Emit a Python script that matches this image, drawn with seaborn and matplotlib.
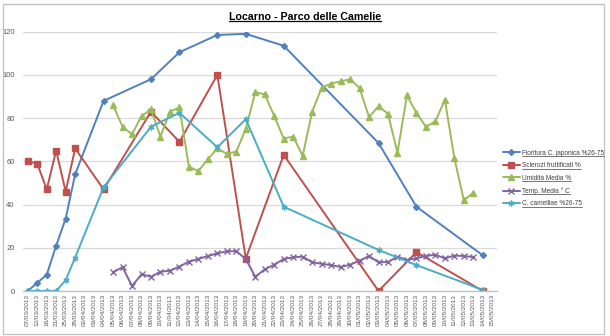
import matplotlib
matplotlib.use("Agg")
import matplotlib.pyplot as plt
from matplotlib.lines import Line2D
from matplotlib.patches import Rectangle
import seaborn as sns

# Category axis: observation dates
category_labels = [
    "07/03/2013", "12/03/2013", "16/03/2013", "21/03/2013", "25/03/2013", "28/03/2013",
    "02/04/2013", "03/04/2013", "04/04/2013", "05/04/2013", "06/04/2013", "07/04/2013",
    "08/04/2013", "09/04/2013", "10/04/2013", "11/04/2013", "12/04/2013", "13/04/2013",
    "14/04/2013", "15/04/2013", "16/04/2013", "17/04/2013", "18/04/2013", "19/04/2013",
    "20/04/2013", "21/04/2013", "22/04/2013", "23/04/2013", "24/04/2013", "25/04/2013",
    "26/04/2013", "27/04/2013", "28/04/2013", "29/04/2013", "30/04/2013", "01/05/2013",
    "02/05/2013", "03/05/2013", "04/05/2013", "05/05/2013", "06/05/2013", "07/05/2013",
    "08/05/2013", "09/05/2013", "10/05/2013", "11/05/2013", "12/05/2013", "13/05/2013",
    "14/05/2013", "15/05/2013",
]

# Field surveys
survey_dates = ["07/03/2013", "12/03/2013", "16/03/2013", "21/03/2013", "25/03/2013",
                "28/03/2013", "04/04/2013", "09/04/2013", "12/04/2013", "16/04/2013",
                "19/04/2013", "23/04/2013", "03/05/2013", "07/05/2013", "14/05/2013"]
fioritura = [0, 3.8, 7.5, 21, 33.5, 54, 88, 98, 110.5, 118.5, 119, 113.5, 68.5, 39, 16.5]
sclerozi = [60, 59, 47, 65, 46, 66, 47, 83, 69, 100, 15, 63, 0, 18, 0]
camelliae = [0, 0, 0, 0, 5, 15.5, 48, 76, 82.5, 66.5, 79.5, 39, 19, 12, 0.5]

# Daily weather (05/04 - 13/05)
weather_dates = category_labels[9:48]
umidita = [86, 76, 72.5, 81, 84, 71.5, 83, 85, 57.5, 55.5, 61, 66, 63.5, 64.5, 75, 92,
           91, 81, 70.5, 71.5, 62.5, 83, 94, 96, 97, 98, 94, 80.5, 85.5, 82, 64, 90.5,
           82.5, 76, 78.5, 88.5, 61.5, 42, 45.5]
temperatura = [8.7, 11, 2.3, 7.7, 6.6, 8.9, 9.4, 11.3, 13.6, 14.8, 16.2, 17.4, 18.4,
               18.4, 14.8, 6.6, 10, 12.2, 14.8, 15.6, 15.9, 13.3, 12.6, 12, 11.1, 12.2,
               14, 16.2, 13.3, 13.4, 15.9, 14.4, 15.1, 16.2, 16.8, 15.1, 16.4, 16.2, 15.7]

series = [
    ("Fioritura C. japonica %26-75", survey_dates, fioritura, "#4F81BD", "D", 3.0),
    ("Sclerozi fruttificati %", survey_dates, sclerozi, "#C0504D", "s", 4.0),
    ("Umidità Media %", weather_dates, umidita, "#9BBB59", "^", 3.8),
    ("Temp. Media ° C", weather_dates, temperatura, "#8064A2", "x", 3.8),
    ("C. camelliae %26-75", survey_dates, camelliae, "#4BACC6", (6, 2, 0), 4.2),
]

sns.set_theme(style="white")
plt.rcParams["font.family"] = ["Liberation Sans", "DejaVu Sans"]

fig = plt.figure(figsize=(6.10, 3.36), dpi=100)
ax = fig.add_axes([23 / 610, 1 - 291 / 336, 474 / 610, (291 - 31.7) / 336])

pos = {d: i for i, d in enumerate(category_labels)}
for name, dates, vals, col, mk, ms in series:
    sns.lineplot(x=[pos[d] for d in dates], y=vals, ax=ax, color=col, marker=mk,
                 markersize=ms, markeredgecolor=col, markeredgewidth=1.0,
                 linewidth=1.4, label=name, errorbar=None, sort=True)

ax.set_xlim(-0.5, len(category_labels) - 0.5)
ax.set_ylim(0, 120)
ax.set_yticks(range(0, 121, 20))
ax.set_xticks(range(len(category_labels)))
ax.set_xticklabels(category_labels, rotation=90, fontsize=4.6, color="#595959")
ax.tick_params(axis="y", labelsize=5.5, labelcolor="#595959", length=0, pad=6)
ax.tick_params(axis="x", length=0, pad=2)
ax.grid(axis="y", color="#D9D9D9", linewidth=0.9)
for side in ("top", "right", "left"):
    ax.spines[side].set_visible(False)
ax.spines["bottom"].set_color("#BFBFBF")
ax.spines["bottom"].set_linewidth(0.9)
ax.set_xlabel("")
ax.set_ylabel("")

leg = ax.legend(loc="center left", bbox_to_anchor=(503 / 610, 1 - 178.5 / 336),
                bbox_transform=fig.transFigure, frameon=False, fontsize=4.7,
                handlelength=2.6, handletextpad=0.3, labelspacing=0.85,
                borderpad=0, borderaxespad=0)
for t in leg.get_texts():
    t.set_color("#404040")

title = fig.text(0.5, 1 - 16.5 / 336, "Locarno - Parco delle Camelie", ha="center",
                 va="center", fontsize=7.7, fontweight="bold", color="#000000")

# Chart border
fig.patches.append(Rectangle((3 / 610, 2 / 336), 601 / 610, 330 / 336,
                             transform=fig.transFigure, fill=False,
                             edgecolor="#BFBFBF", linewidth=0.9))

# Underline title and legend entries
fig.canvas.draw()
renderer = fig.canvas.get_renderer()
W, H = fig.bbox.width, fig.bbox.height
def underline(txt, lw, color):
    bb = txt.get_window_extent(renderer)
    y = bb.y0 + 0.5
    fig.add_artist(Line2D([bb.x0 / W, bb.x1 / W], [y / H, y / H],
                          transform=fig.transFigure, color=color, linewidth=lw))
underline(title, 0.9, "#000000")
for t in leg.get_texts():
    underline(t, 0.5, "#404040")

fig.savefig("out.png", dpi=100)
